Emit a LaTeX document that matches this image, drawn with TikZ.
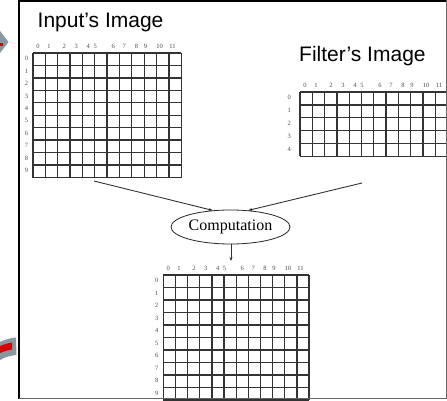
\documentclass[tikz,border=0pt]{standalone}
\usepackage{fontspec}
\setmainfont{Liberation Serif}
\newfontfamily\titlefont{Liberation Sans}
\usetikzlibrary{shapes.geometric,arrows.meta}
\tikzset{
  gridline/.style={draw=black!80,line width=1.3pt},
  numlbl/.style={font=\fontsize{6.5}{6.5}\selectfont,text=black!70,inner sep=0pt},
  titlelbl/.style={font=\titlefont\fontsize{21}{21}\selectfont,anchor=base west,inner sep=0pt},
  compnode/.style={ellipse,draw=black!85,line width=0.8pt,minimum width=119pt,minimum height=34pt,inner sep=0pt,font=\fontsize{16}{16}\selectfont},
  conn/.style={draw=black!80,line width=0.9pt,-{Stealth[length=4pt,width=3pt]}},
}
% #1 name, #2 left, #3 top, #4 cols, #5 last row index, #6 col width, #7 row height, #8 row-label offset
\newcommand\imggrid[8]{%
  \pgfmathsetmacro\gbottom{#3+(#5+1)*#7}%
  \pgfmathsetmacro\gright{#2+#4*#6}%
  \foreach \i in {0,...,#4} {\draw[gridline] (#2+\i*#6,#3) -- (#2+\i*#6,\gbottom);}
  \foreach \j in {0,...,#5} {\draw[gridline] (#2,#3+\j*#7) -- (\gright,#3+\j*#7);}
  \draw[gridline] (#2,\gbottom) -- (\gright,\gbottom);
  \foreach \c/\o in {0/5,1/16,2/31,3/43,4/55,5/62,6/80,7/91,8/103,9/112,10/126,11/139}
    {\node[numlbl] (#1-c\c) at (#2+\o*#6/12.3,#3-6.5) {\c};}
  \foreach \r in {0,...,#5}
    {\node[numlbl] (#1-r\r) at (#2-#8,#3+\r*#7+0.45*#7) {\r};}
}
\begin{document}
\begin{tikzpicture}[x=1pt,y=-1pt]
\useasboundingbox (0,0) rectangle (447,401);
\clip (0,0) rectangle (447,401);
% side decorations (parts of neighbouring slide)
\fill[fill=gray!60!cyan!40!gray] (0,31) -- (8.5,42) -- (0,53) -- cycle;
\fill[red!85!black] (0,43.5) rectangle (2.5,46);
\fill[fill=gray!60!cyan!40!gray] (0,342) .. controls (6,339) and (11,338) .. (16,337.5) -- (16.5,355) .. controls (11,355.5) and (5,357) .. (0,360) -- cycle;
\fill[red!85!black] (0,346) .. controls (5,344) and (9,343) .. (12,342.5) -- (12,349.5) .. controls (8,350) and (4,351.5) .. (0,353) -- cycle;
% titles
\node[titlelbl] (intitle) at (37.5,28) {Input’s Image};
\node[titlelbl] (ftitle) at (299,62) {Filter’s Image};
% grids
\imggrid{in}{33}{53}{12}{9}{12.35}{12.45}{6.5}
\imggrid{flt}{300}{92}{12}{4}{12.3}{12.9}{10.7}
\imggrid{out}{163.3}{275}{12}{9}{12.15}{12.5}{6.6}
% computation
\node[compnode] (comp) at (230.5,227) {Computation};
\coordinate (inbot) at (94,181);
\coordinate (fbot) at (362,183);
\coordinate (outtop) at (231,261);
\draw[conn] (inbot) -- (comp.137);
\draw[conn] (fbot) -- (comp.43);
\draw[conn] (comp.south -| outtop) -- (outtop);
% frame
\draw[black,line width=1.6pt] (18.5,0.8) -- (447,0.8);
\draw[black,line width=2pt] (18.5,0) -- (18.5,398.5);
\draw[black!60,line width=1.2pt] (18.5,398.5) -- (447,398.5);
\draw[black!60,line width=1.2pt] (446.3,0) -- (446.3,398.5);
\end{tikzpicture}
\end{document}
